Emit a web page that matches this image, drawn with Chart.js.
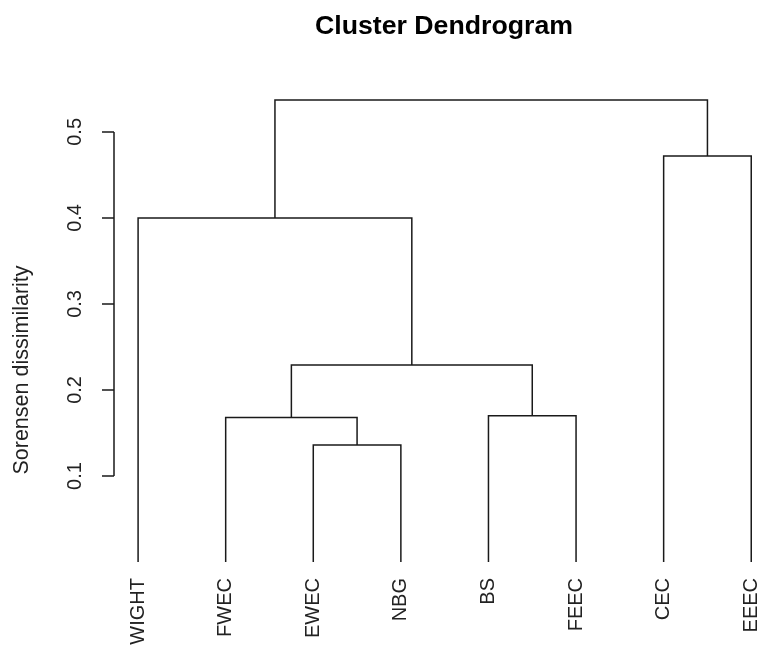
<!DOCTYPE html>
<html lang="en">
<head>
    <meta charset="UTF-8">
    <title>Cluster Dendrogram</title>
    <script src="https://cdn.jsdelivr.net/npm/chart.js"></script>
    <style>
        html, body {
            margin: 0;
            padding: 0;
            background: #fff;
            overflow: hidden;
        }
        #wrap {
            width: 760px;
            height: 646px;
        }
    </style>
</head>
<body>
    <div id="wrap"><canvas id="myChart" width="760" height="646"></canvas></div>
    <script>
        // leaves in plotting order
        const leaves = ['WIGHT', 'FWEC', 'EWEC', 'NBG', 'BS', 'FEEC', 'CEC', 'EEEC'];
        // merge table like R's hclust: negative = leaf number, positive = earlier merge
        const mergeA = [-3, -2, -5, 2, -1, -7, 5];
        const mergeB = [-4, 1, -6, 3, 4, -8, 6];
        const mergeHeight = [0.136, 0.168, 0.170, 0.229, 0.400, 0.472, 0.537];
        const yTicks = [0.1, 0.2, 0.3, 0.4, 0.5];

        const lineColor = '#1a1a1a';
        const textColor = '#222';
        const fontFamily = '"Liberation Sans", Arial, sans-serif';

        // x position / height of every node
        const nodeX = [];
        function childPos(id) {
            if (id < 0) return { x: -id, h: 0 };
            return { x: nodeX[id - 1], h: mergeHeight[id - 1] };
        }
        const datasets = [];
        for (let i = 0; i < mergeA.length; i++) {
            const a = childPos(mergeA[i]);
            const b = childPos(mergeB[i]);
            const h = mergeHeight[i];
            nodeX.push((a.x + b.x) / 2);
            datasets.push({
                data: [
                    { x: a.x, y: a.h },
                    { x: a.x, y: h },
                    { x: b.x, y: h },
                    { x: b.x, y: b.h }
                ],
                showLine: true,
                borderColor: lineColor,
                borderWidth: 1.5,
                pointRadius: 0,
                fill: false,
                tension: 0
            });
        }

        // title + y axis drawn R style: line only from first to last tick, rotated labels
        const rAxis = {
            id: 'rAxis',
            afterDraw(chart) {
                const ctx = chart.ctx;
                const y = chart.scales.y;
                const left = chart.chartArea.left;
                ctx.save();
                ctx.strokeStyle = lineColor;
                ctx.lineWidth = 1.5;
                ctx.beginPath();
                ctx.moveTo(left, y.getPixelForValue(yTicks[0]));
                ctx.lineTo(left, y.getPixelForValue(yTicks[yTicks.length - 1]));
                yTicks.forEach(v => {
                    const py = y.getPixelForValue(v);
                    ctx.moveTo(left, py);
                    ctx.lineTo(left - 12, py);
                });
                ctx.stroke();

                ctx.fillStyle = textColor;
                ctx.font = '20px ' + fontFamily;
                ctx.textAlign = 'center';
                ctx.textBaseline = 'middle';
                yTicks.forEach(v => {
                    ctx.save();
                    ctx.translate(75, y.getPixelForValue(v));
                    ctx.rotate(-Math.PI / 2);
                    ctx.fillText(v.toFixed(1), 0, 0);
                    ctx.restore();
                });
                ctx.font = '21.5px ' + fontFamily;
                ctx.save();
                ctx.translate(22, 370);
                ctx.rotate(-Math.PI / 2);
                ctx.fillText('Sorensen dissimilarity', 0, 0);
                ctx.restore();

                ctx.fillStyle = '#000';
                ctx.font = 'bold 26.7px ' + fontFamily;
                ctx.fillText('Cluster Dendrogram', 444, 27);
                ctx.restore();
            }
        };

        const ctx = document.getElementById('myChart').getContext('2d');
        const myChart = new Chart(ctx, {
            type: 'scatter',
            data: { datasets: datasets },
            plugins: [rAxis],
            options: {
                responsive: false,
                animation: false,
                layout: {
                    padding: { left: 114, right: 0, top: 82, bottom: 0 }
                },
                plugins: {
                    legend: { display: false },
                    tooltip: { enabled: false },
                    title: { display: false }
                },
                scales: {
                    x: {
                        type: 'linear',
                        min: 0.725,
                        max: 8.1,
                        grid: { display: false, drawTicks: false, tickLength: 0 },
                        border: { display: false },
                        afterFit: scale => {
                            scale.height = 84;
                            scale.paddingLeft = 0;
                            scale.paddingRight = 0;
                        },
                        afterBuildTicks: scale => {
                            scale.ticks = leaves.map((name, i) => ({ value: i + 1 }));
                        },
                        ticks: {
                            autoSkip: false,
                            minRotation: 90,
                            maxRotation: 90,
                            padding: 16,
                            color: textColor,
                            font: { family: fontFamily, size: 20 },
                            callback: value => leaves[value - 1]
                        }
                    },
                    y: {
                        type: 'linear',
                        display: false,
                        min: 0,
                        max: 0.558
                    }
                }
            }
        });
    </script>
</body>
</html>
